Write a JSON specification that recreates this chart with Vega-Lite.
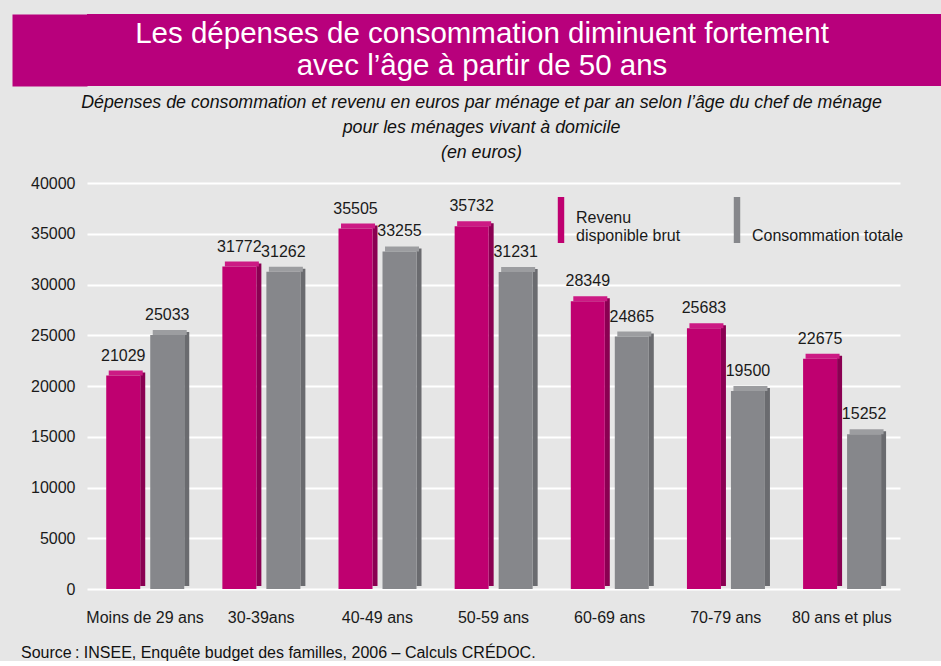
{
  "$schema": "https://vega.github.io/schema/vega-lite/v6.json",
  "background": "#e6e6e6",
  "padding": {"left": 12, "top": 14, "right": 0, "bottom": 0},
  "spacing": 8,
  "config": {
    "font": "Liberation Sans",
    "view": {"stroke": null},
    "axis": {"labelFont": "Liberation Sans", "labelColor": "#1a1a1a"}
  },
  "title": {
    "text": "Source\u2009: INSEE, Enquête budget des familles, 2006 – Calculs CRÉDOC.",
    "orient": "bottom",
    "anchor": "start",
    "frame": "bounds",
    "fontSize": 16,
    "fontWeight": "normal",
    "color": "#111111",
    "offset": 20,
    "dx": 9
  },
  "vconcat": [
    {
      "width": 854,
      "height": 72,
      "view": {"fill": "#b8007c", "stroke": null},
      "data": {"values": [
        {"ligne": 1, "texte": "Les dépenses de consommation diminuent fortement"},
        {"ligne": 2, "texte": "avec l’âge à partir de 50 ans"}
      ]},
      "mark": {"type": "text", "color": "white", "fontSize": 29.5, "dx": -32},
      "encoding": {
        "y": {
          "field": "ligne",
          "type": "ordinal",
          "scale": {"padding": 0.625},
          "axis": {"title": null, "labels": false, "ticks": false, "grid": false, "domain": true, "domainColor": "#b8007c", "domainWidth": 75, "offset": 37.5}
        },
        "text": {"field": "texte"}
      }
    },
    {
      "width": 813,
      "height": 406,
      "title": {
        "text": ["Dépenses de consommation et revenu en euros par ménage et par an selon l’âge du chef de ménage", "pour les ménages vivant à domicile", "(en euros)"],
        "fontSize": 17.8,
        "fontStyle": "italic",
        "fontWeight": "normal",
        "lineHeight": 25,
        "color": "#111111",
        "anchor": "middle",
        "offset": 13,
        "dx": -12
      },
      "data": {"values": [
        {"age": "Moins de 29 ans", "serie": "Revenu disponible brut", "valeur": 21029},
        {"age": "Moins de 29 ans", "serie": "Consommation totale", "valeur": 25033},
        {"age": "30-39ans", "serie": "Revenu disponible brut", "valeur": 31772},
        {"age": "30-39ans", "serie": "Consommation totale", "valeur": 31262},
        {"age": "40-49 ans", "serie": "Revenu disponible brut", "valeur": 35505},
        {"age": "40-49 ans", "serie": "Consommation totale", "valeur": 33255},
        {"age": "50-59 ans", "serie": "Revenu disponible brut", "valeur": 35732},
        {"age": "50-59 ans", "serie": "Consommation totale", "valeur": 31231},
        {"age": "60-69 ans", "serie": "Revenu disponible brut", "valeur": 28349},
        {"age": "60-69 ans", "serie": "Consommation totale", "valeur": 24865},
        {"age": "70-79 ans", "serie": "Revenu disponible brut", "valeur": 25683},
        {"age": "70-79 ans", "serie": "Consommation totale", "valeur": 19500},
        {"age": "80 ans et plus", "serie": "Revenu disponible brut", "valeur": 22675},
        {"age": "80 ans et plus", "serie": "Consommation totale", "valeur": 15252}
      ]},
      "encoding": {
        "x": {
          "field": "age",
          "type": "nominal",
          "sort": ["Moins de 29 ans", "30-39ans", "40-49 ans", "50-59 ans", "60-69 ans", "70-79 ans", "80 ans et plus"],
          "scale": {"paddingInner": 0.245, "paddingOuter": 0.1225},
          "axis": {"title": null, "labelAngle": 0, "labelFontSize": 16, "labelPadding": 20, "ticks": false, "domain": false, "grid": false}
        },
        "xOffset": {
          "field": "serie",
          "type": "nominal",
          "sort": ["Revenu disponible brut", "Consommation totale"],
          "scale": {"type": "band", "range": [0, 88], "paddingInner": 0, "paddingOuter": 0}
        },
        "y": {
          "field": "valeur",
          "type": "quantitative",
          "scale": {"domain": [0, 40000]},
          "axis": {
            "title": null,
            "values": [0, 5000, 10000, 15000, 20000, 25000, 30000, 35000, 40000],
            "format": "d",
            "grid": true,
            "gridColor": "#ffffff",
            "gridWidth": 2,
            "domain": false,
            "ticks": false,
            "labelFontSize": 16,
            "labelPadding": 12,
            "minExtent": 75,
            "maxExtent": 75
          }
        }
      },
      "resolve": {"scale": {"xOffset": "independent"}},
      "layer": [
        {
          "mark": {"type": "bar", "width": 5, "yOffset": -3, "y2Offset": -3},
          "encoding": {
            "xOffset": {
              "field": "serie",
              "type": "nominal",
              "sort": ["Revenu disponible brut", "Consommation totale"],
              "scale": {"type": "band", "range": [19.5, 107.5], "paddingInner": 0, "paddingOuter": 0}
            },
            "color": {"condition": {"test": "datum.serie === 'Revenu disponible brut'", "value": "#8a0052"}, "value": "#6a6b6f"}
          }
        },
        {
          "mark": {"type": "bar", "width": 34, "yOffset": -5, "y2Offset": 0},
          "encoding": {
            "xOffset": {
              "field": "serie",
              "type": "nominal",
              "sort": ["Revenu disponible brut", "Consommation totale"],
              "scale": {"type": "band", "range": [2.5, 90.5], "paddingInner": 0, "paddingOuter": 0}
            },
            "y2": {"field": "valeur"},
            "color": {"condition": {"test": "datum.serie === 'Revenu disponible brut'", "value": "#cc1a84"}, "value": "#9c9da0"}
          }
        },
        {
          "mark": {"type": "bar", "width": 34},
          "encoding": {
            "color": {
              "field": "serie",
              "type": "nominal",
              "scale": {"domain": ["Revenu disponible brut", "Consommation totale"], "range": ["#bf0070", "#86878b"]},
              "legend": {
                "title": null,
                "orient": "none",
                "direction": "horizontal",
                "columns": 2,
                "columnPadding": 33,
                "legendX": 451,
                "legendY": 186,
                "symbolType": "M-0.14,-1.13H0.14V0.87H-0.14Z",
                "symbolSize": 2116,
                "symbolStrokeWidth": 0,
                "labelOffset": -8,
                "labelFontSize": 16,
                "labelColor": "#1a1a1a",
                "labelBaseline": "alphabetic",
                "labelLimit": 300,
                "labelExpr": "datum.label == 'Revenu disponible brut' ? ['Revenu', 'disponible brut'] : ['', datum.label]"
              }
            }
          }
        },
        {
          "mark": {"type": "text", "dy": -20, "fontSize": 16, "color": "#1a1a1a"},
          "encoding": {
            "text": {"field": "valeur", "type": "quantitative", "format": "d"}
          }
        }
      ]
    }
  ]
}
